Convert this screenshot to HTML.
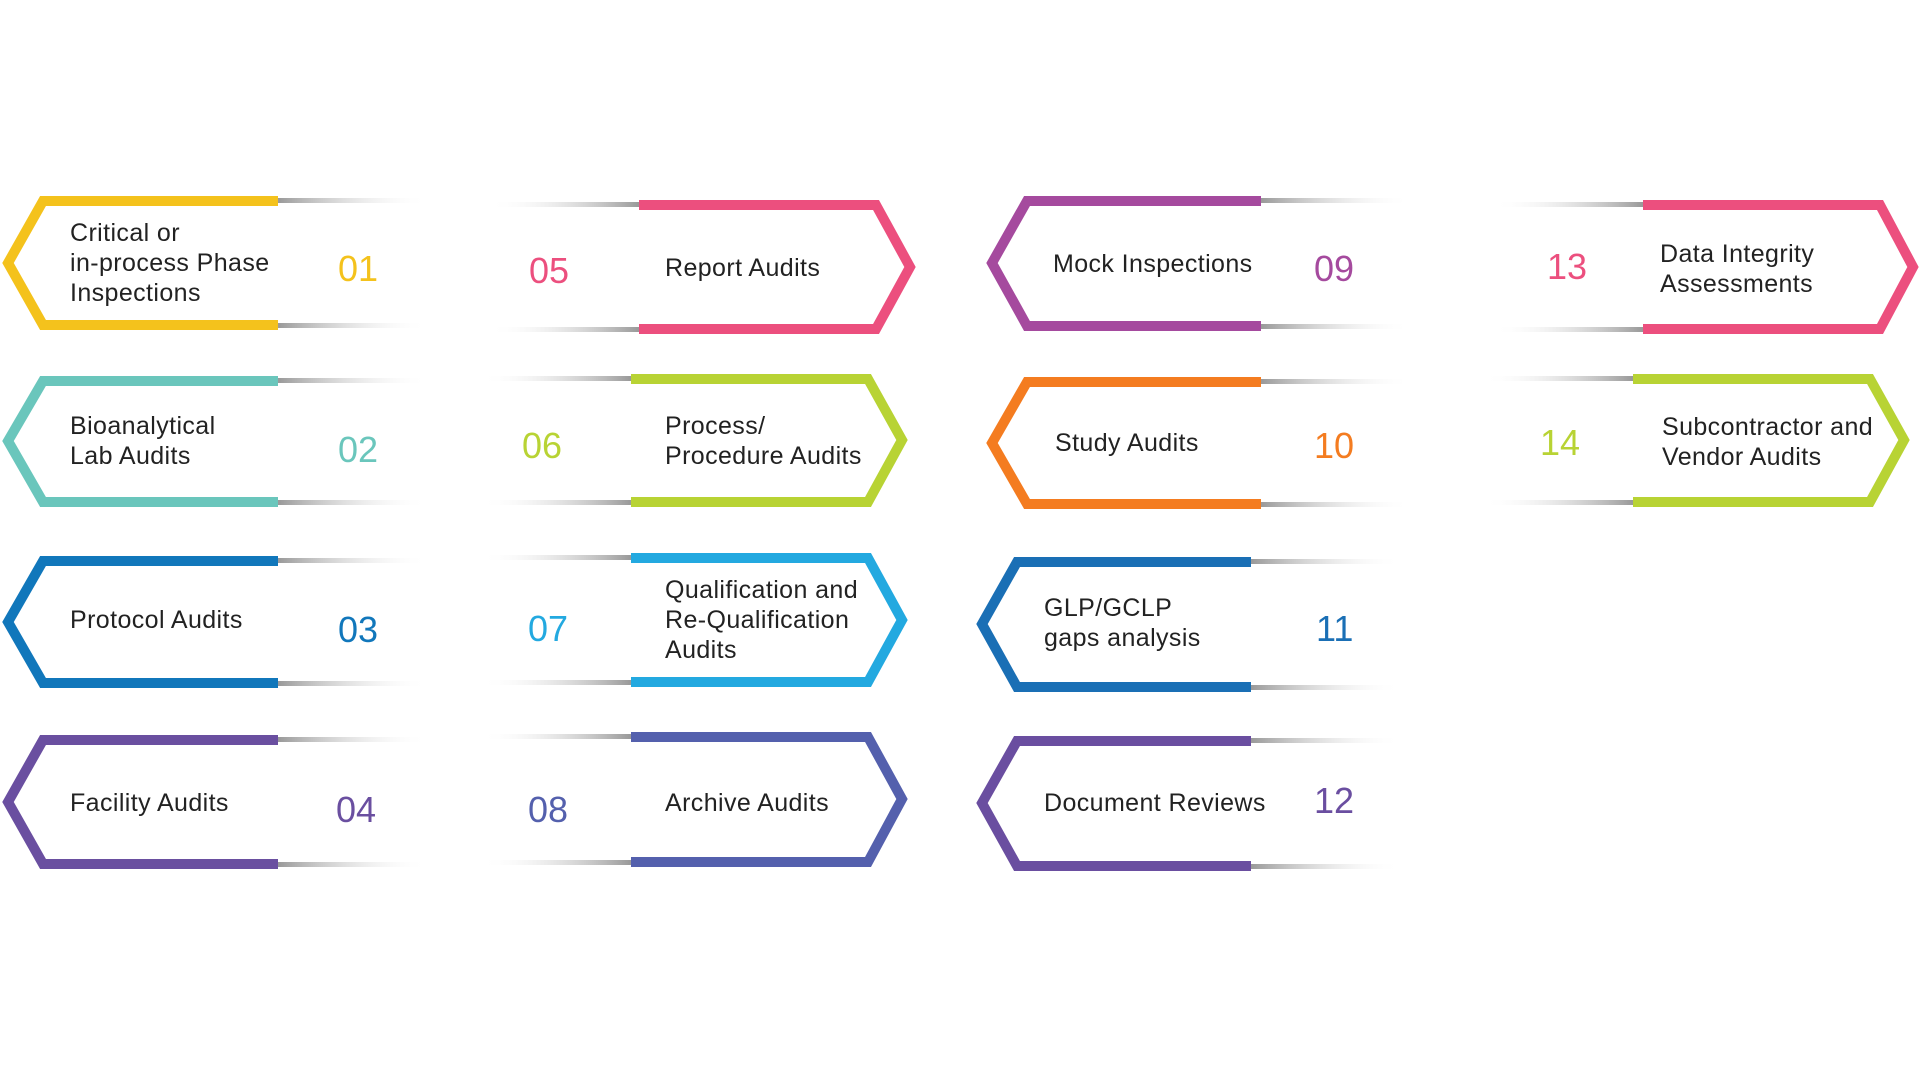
<!DOCTYPE html>
<html><head><meta charset="utf-8"><style>
html,body{margin:0;padding:0;background:#fff;width:1920px;height:1080px;overflow:hidden}
svg{display:block}
.t{font-family:"Liberation Sans",sans-serif;font-size:25px;letter-spacing:0.4px;fill:#222}
.n{font-family:"Liberation Sans",sans-serif;font-size:36px}
</style></head><body>
<svg width="1920" height="1080" viewBox="0 0 1920 1080" xmlns="http://www.w3.org/2000/svg">
<defs>
<linearGradient id="sl" x1="0" x2="1"><stop offset="0" stop-color="#999"/><stop offset="1" stop-color="#fff" stop-opacity="0"/></linearGradient>
<linearGradient id="sr" x1="0" x2="1"><stop offset="0" stop-color="#fff" stop-opacity="0"/><stop offset="1" stop-color="#999"/></linearGradient>
</defs>
<g fill="none" stroke-width="10" stroke-linejoin="miter">
<polyline stroke="#f4c21c" points="278,201 43,201 8,263 43,325 278,325"/>
<polyline stroke="#6ac6bc" points="278,381 43,381 8,441 43,502 278,502"/>
<polyline stroke="#1177bb" points="278,561 43,561 8,622 43,683 278,683"/>
<polyline stroke="#6a4fa0" points="278,740 43,740 8,802 43,864 278,864"/>
<polyline stroke="#ec4f7e" points="639,205 876,205 910,267 876,329 639,329"/>
<polyline stroke="#b8d334" points="631,379 868,379 902,440 868,502 631,502"/>
<polyline stroke="#23a9e0" points="631,558 868,558 902,620 868,682 631,682"/>
<polyline stroke="#5460ad" points="631,737 868,737 902,799 868,862 631,862"/>
<polyline stroke="#a54a9e" points="1261,201 1027,201 992,263 1027,326 1261,326"/>
<polyline stroke="#f47c20" points="1261,382 1027,382 992,443 1027,504 1261,504"/>
<polyline stroke="#1a6fb5" points="1251,562 1017,562 982,624 1017,687 1251,687"/>
<polyline stroke="#6a4ea0" points="1251,741 1017,741 982,803 1017,866 1251,866"/>
<polyline stroke="#ec4f7e" points="1643,205 1880,205 1913,267 1880,329 1643,329"/>
<polyline stroke="#b8d334" points="1633,379 1870,379 1904,440 1870,502 1633,502"/>
</g>
<g>
<rect x="278" y="198" width="150" height="5" fill="url(#sl)"/><rect x="278" y="323" width="150" height="5" fill="url(#sl)"/>
<rect x="278" y="378" width="150" height="5" fill="url(#sl)"/><rect x="278" y="500" width="150" height="5" fill="url(#sl)"/>
<rect x="278" y="558" width="150" height="5" fill="url(#sl)"/><rect x="278" y="681" width="150" height="5" fill="url(#sl)"/>
<rect x="278" y="737" width="150" height="5" fill="url(#sl)"/><rect x="278" y="862" width="150" height="5" fill="url(#sl)"/>
<rect x="489" y="202" width="150" height="5" fill="url(#sr)"/><rect x="489" y="327" width="150" height="5" fill="url(#sr)"/>
<rect x="481" y="376" width="150" height="5" fill="url(#sr)"/><rect x="481" y="500" width="150" height="5" fill="url(#sr)"/>
<rect x="481" y="555" width="150" height="5" fill="url(#sr)"/><rect x="481" y="680" width="150" height="5" fill="url(#sr)"/>
<rect x="481" y="734" width="150" height="5" fill="url(#sr)"/><rect x="481" y="860" width="150" height="5" fill="url(#sr)"/>
<rect x="1261" y="198" width="150" height="5" fill="url(#sl)"/><rect x="1261" y="324" width="150" height="5" fill="url(#sl)"/>
<rect x="1261" y="379" width="150" height="5" fill="url(#sl)"/><rect x="1261" y="502" width="150" height="5" fill="url(#sl)"/>
<rect x="1251" y="559" width="150" height="5" fill="url(#sl)"/><rect x="1251" y="685" width="150" height="5" fill="url(#sl)"/>
<rect x="1251" y="738" width="150" height="5" fill="url(#sl)"/><rect x="1251" y="864" width="150" height="5" fill="url(#sl)"/>
<rect x="1493" y="202" width="150" height="5" fill="url(#sr)"/><rect x="1493" y="327" width="150" height="5" fill="url(#sr)"/>
<rect x="1483" y="376" width="150" height="5" fill="url(#sr)"/><rect x="1483" y="500" width="150" height="5" fill="url(#sr)"/>
</g>
<text class="t" x="70" y="241">Critical or</text>
<text class="t" x="70" y="271">in-process Phase</text>
<text class="t" x="70" y="301">Inspections</text>
<text class="n" x="338" y="281" fill="#f4c21c">01</text>
<text class="t" x="70" y="434">Bioanalytical</text>
<text class="t" x="70" y="464">Lab Audits</text>
<text class="n" x="338" y="462" fill="#6ac6bc">02</text>
<text class="t" x="70" y="628">Protocol Audits</text>
<text class="n" x="338" y="642" fill="#1177bb">03</text>
<text class="t" x="70" y="811">Facility Audits</text>
<text class="n" x="336" y="822" fill="#6a4fa0">04</text>

<text class="n" x="529" y="283" fill="#ec4f7e">05</text>
<text class="t" x="665" y="276">Report Audits</text>
<text class="n" x="522" y="458" fill="#b8d334">06</text>
<text class="t" x="665" y="434">Process/</text>
<text class="t" x="665" y="464">Procedure Audits</text>
<text class="n" x="528" y="641" fill="#23a9e0">07</text>
<text class="t" x="665" y="598">Qualification and</text>
<text class="t" x="665" y="628">Re-Qualification</text>
<text class="t" x="665" y="658">Audits</text>
<text class="n" x="528" y="822" fill="#5460ad">08</text>
<text class="t" x="665" y="811">Archive Audits</text>

<text class="t" x="1053" y="272">Mock Inspections</text>
<text class="n" x="1314" y="281" fill="#a54a9e">09</text>
<text class="t" x="1055" y="451">Study Audits</text>
<text class="n" x="1314" y="458" fill="#f47c20">10</text>
<text class="t" x="1044" y="616">GLP/GCLP</text>
<text class="t" x="1044" y="646">gaps analysis</text>
<text class="n" x="1316" y="641" fill="#1a6fb5">11</text>
<text class="t" x="1044" y="811">Document Reviews</text>
<text class="n" x="1314" y="813" fill="#6a4ea0">12</text>

<text class="n" x="1547" y="279" fill="#ec4f7e">13</text>
<text class="t" x="1660" y="262">Data Integrity</text>
<text class="t" x="1660" y="292">Assessments</text>
<text class="n" x="1540" y="455" fill="#b8d334">14</text>
<text class="t" x="1662" y="435">Subcontractor and</text>
<text class="t" x="1662" y="465">Vendor Audits</text>
</svg>
</body></html>
